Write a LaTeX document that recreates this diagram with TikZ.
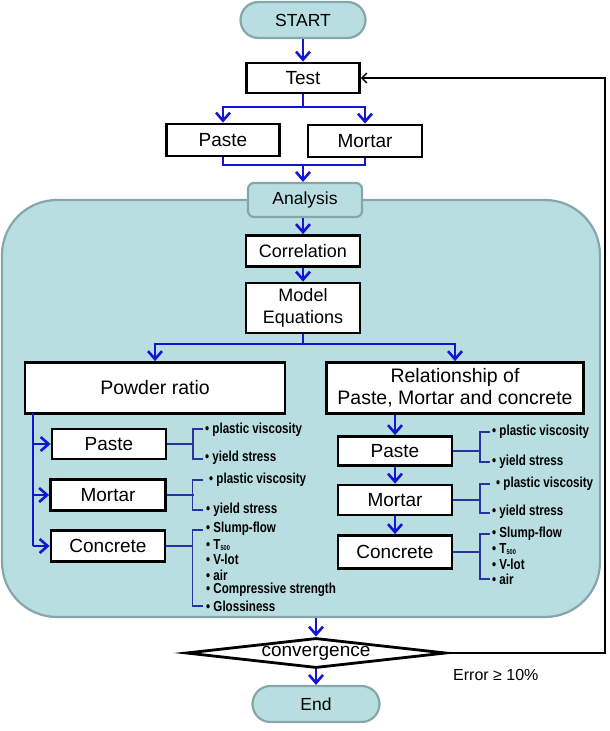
\documentclass[tikz,border=0pt]{standalone}
\usepackage{fontspec}
\setmainfont{Liberation Sans}
\newfontfamily\labfont[FakeStretch=0.8]{Liberation Sans}
\usetikzlibrary{arrows.meta,shapes.geometric}
\definecolor{teal1}{HTML}{B9DEE1}
\definecolor{tealb}{HTML}{86A6A9}
\definecolor{fblue}{RGB}{20,20,215}
\definecolor{bblue}{RGB}{40,50,160}
\begin{document}
\begin{tikzpicture}[x=1pt,y=-1pt,
 box/.style={draw=black, line width=2.8pt, fill=white, inner sep=0pt, align=center, font=\fontsize{19}{22}\selectfont},
 pill/.style={draw=tealb, line width=2.2pt, fill=teal1, rounded corners=18pt, inner sep=0pt, font=\fontsize{17.5}{20}\selectfont},
 flow/.style={draw=fblue, line width=2.6pt, -{Straight Barb[length=8pt,width=14pt]}},
 bline/.style={draw=fblue, line width=2.6pt},
 brk/.style={draw=bblue, line width=1.1pt},
 lab/.style={anchor=west, inner sep=0pt, font=\labfont\bfseries\fontsize{14.5}{16}\selectfont},
 fb/.style={draw=black, line width=1.4pt, -{Straight Barb[length=5pt,width=10pt]}}]
\useasboundingbox (0,0) rectangle (610,731);

% big region
\node[draw=tealb, line width=2.2pt, fill=teal1, rounded corners=55pt, minimum width=598, minimum height=417, inner sep=0pt] (region) at (301,408.5) {};

% top part
\node[pill, minimum width=125, minimum height=36] (start) at (303,20) {START};
\node[box, minimum width=113, minimum height=30] (test) at (303,78) {Test};
\node[box, minimum width=113, minimum height=32] (paste) at (223,140) {Paste};
\node[box, minimum width=114, minimum height=32] (mortar) at (365,141) {Mortar};
\node[pill, rounded corners=6pt, minimum width=114, minimum height=34] (analysis) at (305,200) {Analysis};
\node[box, font=\fontsize{18}{22}\selectfont, minimum width=114, minimum height=31] (corr) at (303,251) {Correlation};
\node[box, font=\fontsize{18}{22}\selectfont, minimum width=114, minimum height=50] (model) at (303,308) {Model\\Equations};
\node[box, font=\fontsize{19.5}{22}\selectfont, minimum width=260, minimum height=51] (powder) at (155,388) {Powder ratio};
\node[box, font=\fontsize{19.5}{22}\selectfont, minimum width=257, minimum height=51] (rel) at (455,388) {Relationship of\\Paste, Mortar and concrete};

% left column
\node[box, minimum width=114, minimum height=30] (lpaste) at (109,444) {Paste};
\node[box, minimum width=115, minimum height=31] (lmortar) at (108,495) {Mortar};
\node[box, minimum width=114, minimum height=31] (lconc) at (108,546) {Concrete};
% right column
\node[box, minimum width=114, minimum height=29] (rpaste) at (395,451) {Paste};
\node[box, minimum width=114, minimum height=30] (rmortar) at (395,500) {Mortar};
\node[box, minimum width=114, minimum height=33] (rconc) at (395,552) {Concrete};

% bottom
\node[diamond, draw=black, line width=2.8pt, fill=white, inner sep=0pt, aspect=8.7, minimum width=260, minimum height=30, font=\fontsize{19}{22}\selectfont] (conv) at (316,653) {convergence};
\node[pill, minimum width=127, minimum height=36] (end) at (316,704) {End};
\node[anchor=west, inner sep=0pt, font=\fontsize{16}{18}\selectfont] (err) at (453,675) {Error ≥ 10\%};

% flow connectors
\draw[flow] (start) -- (test);
\coordinate (j1) at (303,107);
\draw[bline] (test.south) -- (j1);
\draw[flow] (j1) -| (paste.north);
\draw[flow] (j1) -| (mortar.north);
\coordinate (j2) at (303,165);
\draw[bline] (paste.south) |- (j2);
\draw[bline] (mortar.south) |- (j2);
\draw[flow] (j2) -- (j2 |- analysis.north);
\draw[flow] (analysis.south -| corr) -- (corr.north);
\draw[flow] (corr) -- (model);
\coordinate (j3) at (303,344);
\draw[bline] (model.south) -- (j3);
\draw[flow] (j3) -| (powder.north);
\draw[flow] (j3) -| (rel.north);

\coordinate (l1) at (33,413);
\draw[bline] (l1) -- (l1 |- lconc.west);
\draw[flow] (l1 |- lpaste.west) -- (lpaste.west);
\draw[flow] (l1 |- lmortar.west) -- (lmortar.west);
\draw[flow] (l1 |- lconc.west) -- (lconc.west);

\draw[flow] (rpaste |- rel.south) -- (rpaste.north);
\draw[flow] (rpaste.south) -- (rmortar.north);
\draw[flow] (rmortar.south) -- (rconc.north);

\draw[flow] (region.south -| conv) -- (conv.north);
\draw[flow] (conv.south) -- (end.north);

% feedback
\coordinate (fbx) at (605,0);
\draw[fb] (conv.east) -- (conv.east -| fbx) -- (test.east -| fbx) -- (test.east);

% left brackets & labels
\draw[brk] (lpaste.east) -- ++(27,0);
\draw[brk] (203,429) -| (193,459) -- (203,459);
\node[lab] (lp1) at (205,430) {• plastic viscosity};
\node[lab] (lp2) at (205,458) {• yield stress};

\draw[brk] (lmortar.east) -- ++(27,0);
\draw[brk] (203,480) -| (192.5,510) -- (203,510);
\node[lab] (lm1) at (209,480) {• plastic viscosity};
\node[lab] (lm2) at (206,510) {• yield stress};

\draw[brk] (lconc.east) -- ++(27,0);
\draw[brk] (203,530) -| (192.5,606) -- (203,606);
\node[lab] (lc1) at (206,529) {• Slump-flow};
\node[lab] (lc2) at (206,545) {• T\raisebox{-1pt}{\fontsize{7}{7}\selectfont 500}};
\node[lab] (lc3) at (206,559) {• V-lot};
\node[lab] (lc4) at (206,575) {• air};
\node[lab] (lc5) at (206,590) {• Compressive strength};
\node[lab] (lc6) at (206,606) {• Glossiness};

% right brackets & labels
\draw[brk] (rpaste.east) -- ++(28,0);
\draw[brk] (490,432) -| (480,462) -- (490,462);
\node[lab] (rp1) at (492,432) {• plastic viscosity};
\node[lab] (rp2) at (492,462) {• yield stress};

\draw[brk] (rmortar.east) -- ++(28,0);
\draw[brk] (490,484) -| (480,513) -- (490,513);
\node[lab] (rm1) at (496,484) {• plastic viscosity};
\node[lab] (rm2) at (492,512) {• yield stress};

\draw[brk] (rconc.east) -- ++(28,0);
\draw[brk] (490,534) -| (480,579) -- (490,579);
\node[lab] (rc1) at (492,534) {• Slump-flow};
\node[lab] (rc2) at (492,549) {• T\raisebox{-1pt}{\fontsize{7}{7}\selectfont 500}};
\node[lab] (rc3) at (492,564) {• V-lot};
\node[lab] (rc4) at (492,579) {• air};
\end{tikzpicture}
\end{document}
